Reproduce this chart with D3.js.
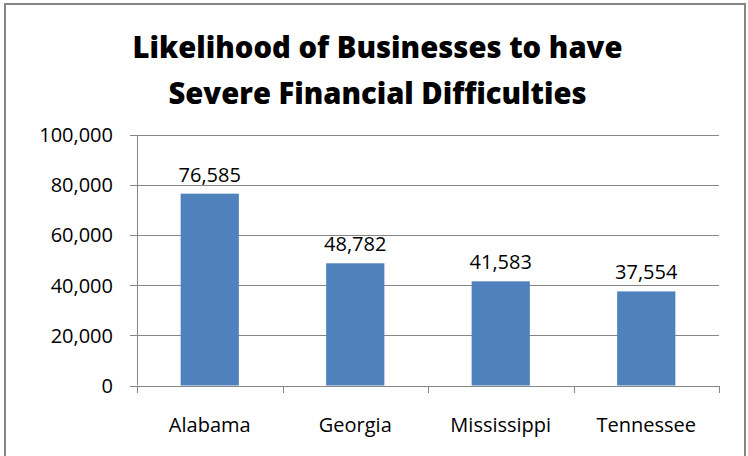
<!DOCTYPE html>
<html><head><meta charset="utf-8">
<script src="https://cdn.jsdelivr.net/npm/d3@7"></script>
<style>body{margin:0;background:#fff} svg{display:block}</style></head>
<body>
<script>
const categories = ["Alabama", "Georgia", "Mississippi", "Tennessee"];
const values = [76585, 48782, 41583, 37554];
const yTicks = [0, 20000, 40000, 60000, 80000, 100000];
const titleLines = ["Likelihood of Businesses to have", "Severe Financial Difficulties"];

const W = 748, H = 456;
const FONT = "'Open Sans', 'Noto Sans', sans-serif";
const svg = d3.select("body").append("svg").attr("width", W).attr("height", H);

svg.append("rect").attr("x", 5).attr("y", 4).attr("width", 740).attr("height", 470)
  .attr("fill", "#fff").attr("stroke", "#868686").attr("stroke-width", 2);

const m = {l: 137, r: 719, t: 135, b: 385.5};
const x = d3.scaleBand().domain(categories).range([m.l, m.r]).paddingInner(0.6).paddingOuter(0.3);
const y = d3.scaleLinear().domain([0, 100000]).range([m.b, m.t]);
const grid = "#868686";

// gridlines + y ticks
svg.append("g").selectAll("line").data(yTicks).join("line")
  .attr("x1", m.l - 7).attr("x2", m.r)
  .attr("y1", d => Math.round(y(d)) + 0.5).attr("y2", d => Math.round(y(d)) + 0.5)
  .attr("stroke", grid).attr("stroke-width", 1);
// y axis line
svg.append("line").attr("x1", m.l + 0.5).attr("x2", m.l + 0.5).attr("y1", y(100000)).attr("y2", y(0))
  .attr("stroke", grid);
// category ticks
const edges = d3.range(categories.length + 1).map(i => m.l + i * x.step());
svg.append("g").selectAll("line").data(edges).join("line")
  .attr("x1", d => Math.round(d) + 0.5).attr("x2", d => Math.round(d) + 0.5)
  .attr("y1", Math.round(y(0))).attr("y2", Math.round(y(0)) + 7)
  .attr("stroke", grid);

// y tick labels
const fmt = d3.format(",");
svg.append("g").selectAll("text").data(yTicks).join("text")
  .attr("x", m.l - 24).attr("y", d => y(d)).attr("dy", "0.36em")
  .attr("text-anchor", "end").attr("font-family", FONT).attr("font-size", 20)
  .attr("fill", "#000").text(d => fmt(d));

// bars
svg.append("g").selectAll("rect").data(values).join("rect")
  .attr("x", (d, i) => x(categories[i])).attr("width", x.bandwidth())
  .attr("y", d => y(d)).attr("height", d => y(0) - y(d))
  .attr("fill", "#4F81BD");

// value labels
svg.append("g").selectAll("text").data(values).join("text")
  .attr("x", (d, i) => x(categories[i]) + x.bandwidth() / 2).attr("y", d => y(d) - 12)
  .attr("text-anchor", "middle").attr("font-family", FONT).attr("font-size", 20)
  .attr("fill", "#000").text(d => fmt(d));

// category labels
svg.append("g").selectAll("text").data(categories).join("text")
  .attr("x", d => x(d) + x.bandwidth() / 2).attr("y", 432)
  .attr("text-anchor", "middle").attr("font-family", FONT).attr("font-size", 20)
  .attr("fill", "#000").text(d => d);

// title
svg.append("g").selectAll("text").data(titleLines).join("text")
  .attr("x", 377.5).attr("y", (d, i) => [58.3, 104.3][i])
  .attr("text-anchor", "middle").attr("font-family", FONT).attr("font-weight", 800)
  .attr("font-size", 30).attr("fill", "#000")
  .attr("textLength", (d, i) => [490, 418][i]).attr("lengthAdjust", "spacingAndGlyphs")
  .text(d => d);
</script>
</body></html>
